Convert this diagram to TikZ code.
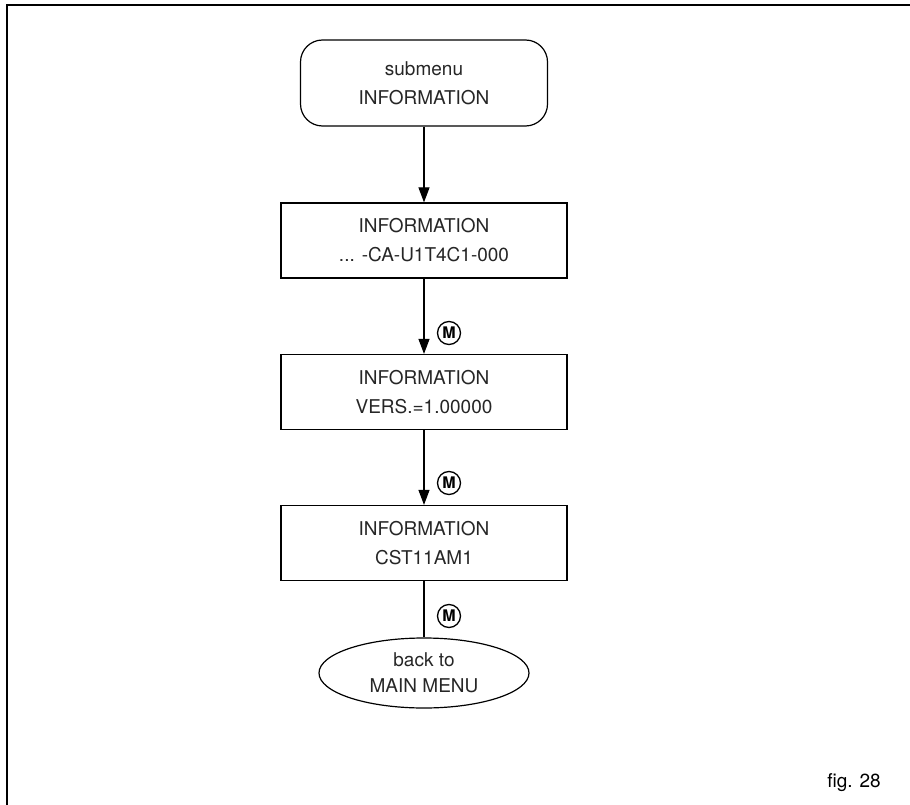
\documentclass[tikz,border=0pt]{standalone}
\usepackage{fontspec}
\setmainfont{TeX Gyre Heros}
\usetikzlibrary{arrows.meta,shapes.geometric}
\tikzset{
	menubox/.style = {draw, line width=1.2pt, minimum width=286pt, minimum height=75pt, align=center, text=black!85, font=\fontsize{19}{29}\selectfont},
	startbox/.style = {menubox, rounded corners=22pt, minimum width=247pt, minimum height=86pt},
	endbox/.style = {draw, ellipse, line width=1.2pt, inner sep=0pt, minimum width=210pt, minimum height=70pt, align=center, text=black!85, font=\fontsize{19}{26}\selectfont},
	flow/.style = {line width=1.1pt, -{Triangle[length=15pt,width=11pt]}},
	mkey/.style = {draw, circle, line width=1.3pt, inner sep=0pt, minimum size=23pt, font=\bfseries\fontsize{16}{16}\selectfont}
}
\newcommand{\mkeynode}[2]{\node [mkey] (#1) at (449,#2) {M};}

\begin{document}
\begin{tikzpicture}[x=1pt, y=-1pt]
\useasboundingbox (0,0) rectangle (910,805);
% frame
\draw [line width=2pt] (7,805) -- (7,5) -- (910,5);

\node [startbox] (sub) at (424,83) {submenu\\INFORMATION};
\node [menubox] (info1) at (424,240.5) {INFORMATION\\... -CA-U1T4C1-000};
\node [menubox] (info2) at (424,392) {INFORMATION\\VERS.=1.00000};
\node [menubox] (info3) at (424,543) {INFORMATION\\CST11AM1};
\node [endbox] (back) at (424,673) {back to\\MAIN MENU};

\mkeynode{m1}{333}
\mkeynode{m2}{483}
\mkeynode{m3}{616}

\draw [flow] (sub) -- (info1);
\draw [flow] (info1) -- (info2);
\draw [flow] (info2) -- (info3);
\draw [line width=1.1pt] (info3) -- (back);

\node [font=\fontsize{19}{19}\selectfont] (fig) at (854,783) {fig. 28};
\end{tikzpicture}
\end{document}
